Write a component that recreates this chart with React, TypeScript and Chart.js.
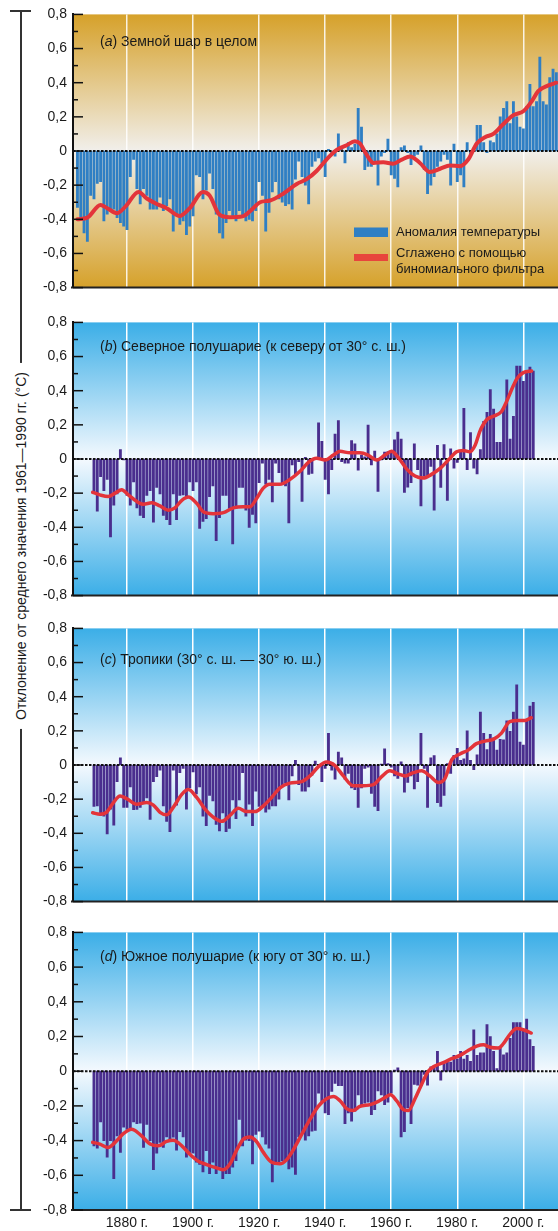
import React, { useEffect, useRef } from 'react';
import { Chart, registerables } from 'chart.js';

Chart.register(...registerables);

const FONT = '"Liberation Sans", Arial, Helvetica, sans-serif';

// ---- axes ----
const xMin = 1863.65;
const xMax = 2010.5;
const xTickYears = [1880, 1900, 1920, 1940, 1960, 1980, 2000];
const xTickLabels = ['1880 г.', '1900 г.', '1920 г.', '1940 г.', '1960 г.', '1980 г.', '2000 г.'];
const yTickValues = [-0.8, -0.6, -0.4, -0.2, 0, 0.2, 0.4, 0.6, 0.8];
const yTickLabels = ['-0,8', '-0,6', '-0,4', '-0,2', '0', '0,2', '0,4', '0,6', '0,8'];
const yMinorValues = [-0.7, -0.5, -0.3, -0.1, 0.1, 0.3, 0.5, 0.7];

const axisTitle = 'Отклонение от среднего значения 1961—1990 гг. (°C)';
const legendAnomaly = 'Аномалия температуры';
const legendSmooth = ['Сглажено с помощью', 'биномиального фильтра'];

// ---- (a) globe ----
const startYearA = 1865;
const anomalyA = [
  -0.33, -0.39, -0.48, -0.53, -0.26, -0.28, -0.19, -0.18, -0.41, -0.37, -0.35, -0.34, -0.39, -0.42, -0.44, -0.46,
  -0.15, -0.05, -0.22, -0.31, -0.22, -0.26, -0.34, -0.34, -0.34, -0.27, -0.35, -0.32, -0.28, -0.47, -0.37, -0.43, -0.41, -0.49, -0.44,
  -0.38, -0.14, -0.15, -0.28, -0.23, -0.13, -0.22, -0.37, -0.48, -0.51,
  -0.42, -0.35, -0.38, -0.41, -0.35, -0.39, -0.41, -0.40, -0.41, -0.35,
  -0.18, -0.26, -0.47, -0.36, -0.24, -0.18, -0.28, -0.30, -0.32, -0.31, -0.34,
  -0.165, -0.06, -0.15, -0.20, -0.31, -0.09, -0.06, -0.04, -0.07, -0.15,
  0.01, -0.01, -0.03, 0.10, 0.02, -0.07, 0.05, 0.02, 0.04, 0.25,
  0.14, -0.11, -0.09, -0.09, -0.07, -0.20, -0.03, -0.01, 0.07, -0.14,
  -0.16, -0.21, 0.02, 0.03, -0.01, -0.08, -0.03, -0.02, 0.03, -0.11,
  -0.25, -0.20, -0.15, -0.09, -0.06, -0.02, -0.05, -0.20, 0.04, -0.18,
  -0.14, -0.21, 0.05, -0.02, 0.01, 0.15, 0.15, 0.05, -0.01, 0.06,
  0.05, 0.10, 0.20, 0.25, 0.29, 0.16, 0.29, 0.20, 0.14, 0.13,
  0.26, 0.39, 0.26, 0.29, 0.55, 0.29, 0.27, 0.43, 0.48, 0.46,
];
const smoothYearsA = [1865, 1868, 1872, 1874, 1877, 1879.5, 1883.5, 1886, 1889, 1892, 1896, 1899, 1903, 1905, 1908, 1911, 1915, 1917.7, 1920.3, 1923.3, 1927.3, 1931.4, 1934.4, 1937.4, 1940.4, 1943.5, 1946.5, 1949, 1950.5, 1952.6, 1954.6, 1957.6, 1960.6, 1963.2, 1965.7, 1968.7, 1971.7, 1974.8, 1977.8, 1980.8, 1983.3, 1985.9, 1988.4, 1990.9, 1993.9, 1997, 2000, 2002.5, 2004.5, 2007.6, 2010];
const smoothA = [-0.40, -0.39, -0.316, -0.335, -0.364, -0.326, -0.24, -0.278, -0.31, -0.335, -0.38, -0.335, -0.24, -0.26, -0.373, -0.388, -0.383, -0.345, -0.30, -0.29, -0.25, -0.193, -0.165, -0.117, -0.05, 0.006, 0.034, 0.057, 0.044, -0.023, -0.07, -0.066, -0.074, -0.05, -0.032, -0.07, -0.123, -0.104, -0.085, -0.089, -0.05, 0.044, 0.081, 0.10, 0.157, 0.21, 0.233, 0.29, 0.35, 0.384, 0.40];

// ---- (b) northern hemisphere ----
const startYearB = 1870;
const anomalyB = [
  -0.195, -0.305, -0.104, -0.186, -0.12, -0.456, -0.27, -0.205,
  0.055, -0.005, -0.214, -0.27, -0.134, -0.286, -0.33, -0.343, -0.214, -0.186, -0.37,
  -0.167, -0.205, -0.33, -0.356, -0.385, -0.205, -0.356, -0.214, -0.21, -0.22, -0.134,
  -0.186, -0.134, -0.407, -0.366, -0.35, -0.22, -0.157, -0.479, -0.343, -0.214, -0.214,
  -0.29, -0.498, -0.29, -0.167, -0.167, -0.30, -0.40, -0.324, -0.375, -0.138, -0.025,
  -0.148, -0.12, -0.252, -0.025, -0.08, -0.138, -0.157, -0.375, -0.034, -0.09, -0.015,
  -0.248, 0.01, -0.09, -0.085, 0.01, 0.212, 0.104, -0.12, -0.205, -0.063, 0.146,
  0.225, -0.015, -0.025, -0.025, 0.108, 0.089, -0.066, 0.023, 0.013, 0.199, -0.034,
  0.047, -0.19, -0.005, 0.04, 0.044, 0.044, 0.112, 0.157, 0.117, -0.195, -0.165,
  -0.138, 0.089, -0.063, -0.275, -0.10, -0.10, -0.044, -0.30, 0.08, -0.167, 0.085, -0.242,
  0.06, -0.053, -0.02, 0.05, 0.297, -0.063, 0.155, -0.053, -0.087, 0.055, 0.22,
  0.274, 0.407, 0.293, 0.098, 0.098, 0.30,
  0.464, 0.117, 0.25, 0.544, 0.544, 0.455, 0.515, 0.538, 0.515,
];
const smoothYearsB = [1869.6, 1871.8, 1874.3, 1876.4, 1878.4, 1880.4, 1882.9, 1885, 1887.5, 1890, 1892.5, 1894.5, 1896.6, 1898.6, 1901.1, 1903.1, 1906.1, 1909.2, 1912.2, 1915.2, 1917.2, 1919.2, 1921.2, 1923.2, 1926.3, 1929.3, 1932.4, 1934.9, 1937.4, 1940, 1942.5, 1944.5, 1947.5, 1950.5, 1953, 1955.6, 1958.1, 1960.1, 1962.1, 1964.7, 1967.2, 1969.7, 1972.2, 1974.8, 1977.3, 1979.8, 1981.8, 1983.8, 1985.4, 1986.9, 1988.9, 1990.9, 1993.4, 1994.9, 1997, 1998, 2000, 2002.5];
const smoothB = [-0.195, -0.21, -0.22, -0.20, -0.18, -0.21, -0.248, -0.265, -0.256, -0.275, -0.30, -0.286, -0.242, -0.223, -0.26, -0.309, -0.32, -0.314, -0.286, -0.28, -0.28, -0.233, -0.172, -0.148, -0.148, -0.12, -0.072, -0.02, 0.004, -0.006, 0.023, 0.045, 0.036, 0.036, 0.023, -0.006, 0.023, 0.045, 0.01, -0.059, -0.10, -0.112, -0.09, -0.055, -0.006, 0.042, 0.05, 0.042, 0.08, 0.165, 0.23, 0.25, 0.278, 0.335, 0.43, 0.468, 0.506, 0.515];

// ---- (c) tropics ----
const startYearC = 1870;
const anomalyC = [
  -0.242, -0.239, -0.295, -0.30, -0.403, -0.258, -0.352, -0.097,
  0.042, -0.248, -0.248, -0.129, -0.261, -0.26, -0.248, -0.22, -0.193, -0.318, -0.097,
  -0.068, -0.03, -0.239, -0.33, -0.39, -0.03, -0.235, -0.045, -0.02, -0.258, -0.134,
  -0.04, -0.17, -0.129, -0.30, -0.356, -0.178, -0.21, -0.348, -0.386, -0.28, -0.39,
  -0.371, -0.205, -0.314, -0.205, -0.045, -0.30, -0.23, -0.356, -0.153, -0.242, -0.24,
  -0.276, -0.258, -0.24, -0.239, -0.2, -0.121, -0.106, -0.205, -0.064, 0.027, -0.115,
  -0.153, -0.153, -0.129, -0.06, 0.023, -0.01, -0.097, -0.02, 0.186, -0.03, -0.083,
  0.076, 0.042, -0.083, -0.049, -0.134, -0.144, -0.248, -0.134, -0.02, -0.012, -0.167,
  -0.242, -0.267, 0.005, 0.095, 0.008, -0.012, -0.064, -0.078, 0.019, -0.159, -0.102,
  -0.064, -0.14, -0.097, 0.186, -0.02, -0.248, 0.042, 0.055, -0.22, -0.242, -0.178,
  0.008, -0.049, 0.057, 0.098, 0.027, 0.036, 0.20, 0.027, -0.027, 0.06, 0.31,
  0.186, 0.09, 0.18, 0.159, 0.087, 0.15, 0.148, 0.258, 0.197, 0.31, 0.47,
  0.134, 0.117, 0.258, 0.345, 0.367,
];
const smoothYearsC = [1869.6, 1871.8, 1873.8, 1875.9, 1877.9, 1879.9, 1882.9, 1886, 1888, 1890, 1892, 1894, 1896.6, 1898.6, 1901.1, 1903.6, 1906.1, 1908.7, 1911.2, 1913.7, 1916.2, 1918.8, 1921.3, 1923.8, 1926.3, 1929.3, 1932.9, 1935.4, 1937.9, 1940.4, 1942.9, 1945.5, 1948.5, 1951.6, 1954.6, 1957.1, 1959.6, 1962.2, 1964.2, 1966.7, 1969.2, 1971.7, 1974.3, 1976.3, 1978.3, 1980.8, 1983.3, 1985.8, 1988.4, 1990.9, 1993.4, 1995.9, 1998.5, 2000.5, 2002.4];
const smoothC = [-0.28, -0.288, -0.277, -0.22, -0.182, -0.197, -0.23, -0.22, -0.235, -0.277, -0.292, -0.248, -0.172, -0.144, -0.19, -0.258, -0.305, -0.33, -0.295, -0.254, -0.273, -0.273, -0.239, -0.19, -0.134, -0.106, -0.097, -0.064, -0.011, 0.017, -0.002, -0.064, -0.121, -0.121, -0.115, -0.068, -0.034, -0.053, -0.064, -0.045, -0.034, -0.064, -0.102, -0.078, 0.03, 0.064, 0.087, 0.125, 0.14, 0.15, 0.187, 0.254, 0.261, 0.261, 0.277];

// ---- (d) southern hemisphere ----
const startYearD = 1870;
const anomalyD = [
  -0.43, -0.443, -0.292, -0.40, -0.496, -0.40, -0.62, -0.373,
  -0.468, -0.322, -0.335, -0.335, -0.292, -0.303, -0.30, -0.44, -0.307, -0.40, -0.568,
  -0.473, -0.41, -0.44, -0.379, -0.398, -0.38, -0.455, -0.348, -0.379, -0.496, -0.468,
  -0.473, -0.525, -0.538, -0.581, -0.458, -0.59, -0.525, -0.59, -0.553, -0.62, -0.59,
  -0.59, -0.553, -0.515, -0.278, -0.43, -0.398, -0.40, -0.534, -0.364, -0.345, -0.379,
  -0.42, -0.443, -0.638, -0.538, -0.525, -0.515, -0.511, -0.563, -0.553, -0.595, -0.379,
  -0.36, -0.398, -0.373, -0.345, -0.341, -0.127, -0.174, -0.24, -0.25, -0.117, -0.07,
  -0.083, -0.083, -0.303, -0.24, -0.288, -0.231, -0.136, -0.193, -0.184, -0.178, -0.25,
  -0.222, -0.114, -0.136, -0.193, -0.178, -0.127, 0.006, 0.019, -0.379, -0.348, -0.212,
  -0.303, -0.076, -0.08, -0.083, -0.019, -0.08, 0.025, 0.03, 0.114, -0.051, 0.053,
  0.057, 0.053, 0.091, 0.072, 0.114, 0.07, 0.091, 0.057, 0.239, 0.091, 0.106,
  0.106, 0.269, 0.20, 0.114, 0.015, 0.144, 0.095, 0.106, 0.189, 0.28, 0.28,
  0.28, 0.242, 0.30, 0.182, 0.144,
];
const smoothYearsD = [1869.6, 1871.8, 1874.3, 1876.4, 1878.9, 1881.4, 1883.9, 1887, 1889.5, 1892, 1894, 1896.6, 1899.1, 1901.6, 1904.1, 1907.1, 1909.2, 1911.2, 1913.2, 1915.2, 1917.2, 1919.2, 1921.3, 1923.8, 1926.3, 1928.3, 1930.3, 1932.9, 1935.4, 1937.9, 1940.4, 1942.5, 1944.5, 1946.5, 1948.5, 1950.5, 1953.6, 1956.1, 1958.1, 1959.8, 1961.6, 1963.7, 1965.2, 1967.2, 1969.2, 1971.2, 1973.2, 1975.8, 1978.3, 1980.8, 1983.3, 1985.9, 1987.9, 1989.9, 1992.4, 1993.9, 1996, 1998, 2000, 2002.4];
const smoothD = [-0.41, -0.42, -0.44, -0.41, -0.36, -0.335, -0.364, -0.42, -0.43, -0.405, -0.398, -0.43, -0.48, -0.519, -0.538, -0.557, -0.568, -0.534, -0.455, -0.392, -0.379, -0.405, -0.468, -0.525, -0.534, -0.511, -0.455, -0.364, -0.278, -0.203, -0.159, -0.146, -0.17, -0.216, -0.227, -0.203, -0.193, -0.174, -0.152, -0.136, -0.17, -0.222, -0.227, -0.159, -0.076, 0, 0.03, 0.049, 0.072, 0.091, 0.119, 0.144, 0.152, 0.138, 0.133, 0.157, 0.214, 0.246, 0.239, 0.22];

type PanelCfg = {
  key: string;
  top: number;
  height: number;
  padBottom: number;
  xAxisHeight: number;
  showX: boolean;
  start: number;
  bars: number[];
  sx: number[];
  sy: number[];
  barColor: string;
  bgEdge: string;
  bgMid: string;
  grid: string;
  letter: string;
  rest: string;
  titleY: number;
  legend: boolean;
  lineWidth: number;
};

const panels: PanelCfg[] = [
  { key: 'a', top: 0, height: 302, padBottom: 10, xAxisHeight: 0, showX: false, start: startYearA, bars: anomalyA, sx: smoothYearsA, sy: smoothA, barColor: '#2F7FC4', bgEdge: '#D6A12A', bgMid: '#F1EFEB', grid: 'rgba(255,255,255,0.85)', letter: 'a', rest: ') Земной шар в целом', titleY: 42, legend: true, lineWidth: 4 },
  { key: 'b', top: 308, height: 302, padBottom: 10, xAxisHeight: 0, showX: false, start: startYearB, bars: anomalyB, sx: smoothYearsB, sy: smoothB, barColor: '#4A2E8E', bgEdge: '#3BAEE7', bgMid: '#F4F9FE', grid: '#FFFFFF', letter: 'b', rest: ') Северное полушарие (к северу от 30° с. ш.)', titleY: 39, legend: false, lineWidth: 3.5 },
  { key: 'c', top: 614, height: 302, padBottom: 10, xAxisHeight: 0, showX: false, start: startYearC, bars: anomalyC, sx: smoothYearsC, sy: smoothC, barColor: '#4A2E8E', bgEdge: '#3BAEE7', bgMid: '#F4F9FE', grid: '#FFFFFF', letter: 'c', rest: ') Тропики (30° с. ш. — 30° ю. ш.)', titleY: 46, legend: false, lineWidth: 3.5 },
  { key: 'd', top: 918, height: 313, padBottom: 0, xAxisHeight: 21, showX: true, start: startYearD, bars: anomalyD, sx: smoothYearsD, sy: smoothD, barColor: '#4A2E8E', bgEdge: '#3BAEE7', bgMid: '#F4F9FE', grid: '#FFFFFF', letter: 'd', rest: ') Южное полушарие (к югу от 30° ю. ш.)', titleY: 39, legend: false, lineWidth: 3.5 },
];

function makeDecor(p: PanelCfg) {
  return {
    id: 'decor_' + p.key,
    beforeDraw(chart: any) {
      const { ctx, chartArea: a } = chart;
      const g = ctx.createLinearGradient(0, a.top, 0, a.bottom);
      g.addColorStop(0, p.bgEdge);
      g.addColorStop(0.5, p.bgMid);
      g.addColorStop(1, p.bgEdge);
      ctx.save();
      ctx.fillStyle = g;
      ctx.fillRect(a.left, a.top, a.right - a.left, a.bottom - a.top);
      ctx.restore();
    },
    afterDatasetDraw(chart: any, args: any) {
      if (args.index !== 1) return;
      const { ctx, chartArea: a } = chart;
      const y = chart.scales.y.getPixelForValue(0);
      ctx.save();
      ctx.strokeStyle = '#111';
      ctx.lineWidth = 2;
      ctx.setLineDash([2.5, 1.5]);
      ctx.beginPath();
      ctx.moveTo(a.left, y);
      ctx.lineTo(a.right, y);
      ctx.stroke();
      ctx.restore();
    },
    afterDraw(chart: any) {
      const { ctx, chartArea: a } = chart;
      const ys = chart.scales.y;
      ctx.save();
      // bottom border
      ctx.strokeStyle = '#222';
      ctx.lineWidth = 2;
      ctx.beginPath();
      ctx.moveTo(a.left - 2, a.bottom);
      ctx.lineTo(a.right, a.bottom);
      ctx.stroke();
      // inner tick marks
      ctx.lineWidth = 1.5;
      ctx.strokeStyle = '#111';
      yTickValues.forEach((v) => {
        const y = ys.getPixelForValue(v);
        ctx.beginPath();
        ctx.moveTo(a.left, y);
        ctx.lineTo(a.left + 10, y);
        ctx.stroke();
      });
      yMinorValues.forEach((v) => {
        const y = ys.getPixelForValue(v);
        ctx.beginPath();
        ctx.moveTo(a.left, y);
        ctx.lineTo(a.left + 5, y);
        ctx.stroke();
      });
      // title
      ctx.fillStyle = '#1a1a1a';
      ctx.textBaseline = 'middle';
      ctx.textAlign = 'left';
      let x = 100;
      ctx.font = `14px ${FONT}`;
      ctx.fillText('(', x, p.titleY);
      x += ctx.measureText('(').width;
      ctx.font = `italic 14px ${FONT}`;
      ctx.fillText(p.letter, x, p.titleY);
      x += ctx.measureText(p.letter).width;
      ctx.font = `14px ${FONT}`;
      ctx.fillText(p.rest, x, p.titleY);
      // legend
      if (p.legend) {
        ctx.fillStyle = p.barColor;
        ctx.fillRect(354, 227.5, 34, 9.5);
        ctx.fillStyle = '#E8453C';
        ctx.fillRect(354, 254, 34, 7);
        ctx.fillStyle = '#1a1a1a';
        ctx.font = `13px ${FONT}`;
        ctx.fillText(legendAnomaly, 396, 232);
        ctx.fillText(legendSmooth[0], 396, 253);
        ctx.fillText(legendSmooth[1], 396, 269.5);
      }
      ctx.restore();
    },
  };
}

function Panel({ p }: { p: PanelCfg }) {
  const ref = useRef<HTMLCanvasElement | null>(null);
  useEffect(() => {
    if (!ref.current) return;
    const barData = p.bars.map((v, i) => ({ x: p.start + i, y: v }));
    const lineData = p.sx.map((x, i) => ({ x, y: p.sy[i] }));
    const chart = new Chart(ref.current, {
      type: 'bar',
      data: {
        datasets: [
          {
            type: 'line',
            data: lineData,
            borderColor: '#E3343A',
            borderWidth: p.lineWidth,
            pointRadius: 0,
            cubicInterpolationMode: 'monotone',
            borderCapStyle: 'round',
            borderJoinStyle: 'round',
            order: 0,
          } as any,
          {
            type: 'bar',
            data: barData,
            backgroundColor: p.barColor,
            barThickness: 2.2,
            grouped: false,
            order: 1,
          } as any,
        ],
      },
      options: {
        animation: false,
        responsive: false,
        maintainAspectRatio: false,
        events: [],
        layout: { padding: { top: 10, bottom: p.padBottom, left: 0, right: 0 } },
        plugins: { legend: { display: false }, tooltip: { enabled: false }, title: { display: false } },
        scales: {
          x: {
            type: 'linear',
            min: xMin,
            max: xMax,
            offset: false,
            afterBuildTicks: (s: any) => {
              s.ticks = xTickYears.map((v) => ({ value: v }));
            },
            afterFit: (s: any) => {
              s.height = p.xAxisHeight;
            },
            grid: { color: p.grid, lineWidth: 1.5, drawTicks: false, offset: false },
            border: { display: false },
            ticks: {
              display: p.showX,
              padding: 5,
              autoSkip: false,
              maxRotation: 0,
              color: '#1a1a1a',
              font: { size: 14, family: FONT },
              callback: (_v: any, i: number) => xTickLabels[i],
            },
          },
          y: {
            type: 'linear',
            min: -0.8,
            max: 0.8,
            afterBuildTicks: (s: any) => {
              s.ticks = yTickValues.map((v) => ({ value: v }));
            },
            afterFit: (s: any) => {
              s.width = 73;
            },
            grid: { display: false, drawTicks: false },
            border: { display: true, color: '#111', width: 2 },
            ticks: {
              padding: 6,
              color: '#1a1a1a',
              font: { size: 14, family: FONT },
              callback: (_v: any, i: number) => yTickLabels[i],
            },
          },
        },
      } as any,
      plugins: [makeDecor(p)],
    });
    return () => chart.destroy();
  }, [p]);
  return (
    <canvas
      ref={ref}
      width={558}
      height={p.height}
      style={{ position: 'absolute', left: 0, top: p.top, width: 558, height: p.height }}
    />
  );
}

export default function App() {
  return (
    <div style={{ position: 'absolute', left: 0, top: 0, width: 558, height: 1231, background: '#fff', overflow: 'hidden', fontFamily: FONT }}>
      <div style={{ position: 'absolute', left: 20, top: 10, width: 1.5, height: 1200, background: '#333' }} />
      <div style={{ position: 'absolute', left: 10, top: 10, width: 21, height: 1.5, background: '#333' }} />
      <div style={{ position: 'absolute', left: 10, top: 1209, width: 21, height: 1.5, background: '#333' }} />
      <div
        style={{
          position: 'absolute',
          left: 20.5,
          top: 546,
          transform: 'translate(-50%, -50%) rotate(-90deg)',
          whiteSpace: 'nowrap',
          fontSize: 14,
          lineHeight: '16px',
          color: '#1a1a1a',
          background: '#fff',
          padding: '0 9px',
        }}
      >
        {axisTitle}
      </div>
      {panels.map((p) => (
        <Panel key={p.key} p={p} />
      ))}
    </div>
  );
}
